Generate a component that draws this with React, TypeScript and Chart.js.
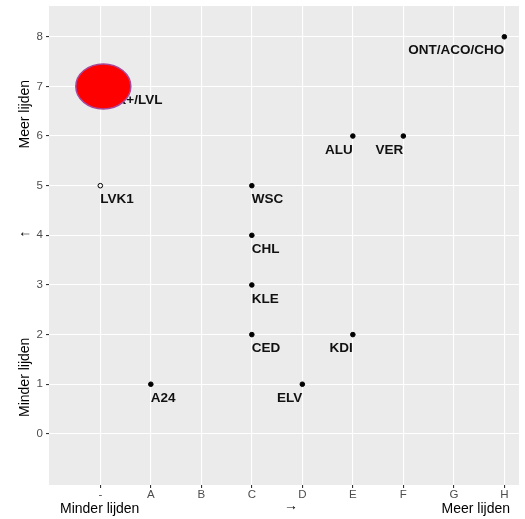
import React, { useEffect, useRef } from "react";
import { Chart, registerables } from "chart.js";

Chart.register(...registerables);

const categories = ["-", "A", "B", "C", "D", "E", "F", "G", "H"];
const yTicks = [0, 1, 2, 3, 4, 5, 6, 7, 8];
const pointLabels = ["ONT/ACO/CHO", "ALU", "VER", "LVK+/LVL", "LVK1", "WSC", "CHL", "KLE", "CED", "KDI", "A24", "ELV"];
const pointCategories = ["H", "E", "F", "-", "-", "C", "C", "C", "C", "E", "A", "D"];
const pointValues = [8, 6, 6, 7, 5, 5, 4, 3, 2, 2, 1, 1];
const hollowLabels = ["LVK1"];
const highlightLabel = "LVK+/LVL";
const xTitleParts = ["Minder lijden", "→", "Meer lijden"];
const yTitleParts = ["Minder lijden", "↑", "Meer lijden"];

const FONT = "'Liberation Sans', Arial, sans-serif";

export default function App() {
  const ref = useRef<HTMLCanvasElement | null>(null);

  useEffect(() => {
    document.body.style.margin = "0";
    const canvas = ref.current!;
    const data = pointLabels.map((l, i) => ({
      x: categories.indexOf(pointCategories[i]),
      y: pointValues[i],
    }));

    const overlay = {
      id: "overlay",
      beforeDraw(chart: any) {
        const { ctx, chartArea } = chart;
        ctx.save();
        ctx.fillStyle = "#ebebeb";
        ctx.fillRect(chartArea.left, chartArea.top, chartArea.right - chartArea.left, chartArea.bottom - chartArea.top);
        ctx.restore();
      },
      afterDatasetsDraw(chart: any) {
        const { ctx, scales } = chart;
        const xs = scales.x, ys = scales.y;
        ctx.save();
        ctx.font = `bold 13.5px ${FONT}`;
        ctx.fillStyle = "#111";
        ctx.textBaseline = "middle";
        data.forEach((p, i) => {
          const px = xs.getPixelForValue(p.x);
          const py = ys.getPixelForValue(p.y);
          ctx.textAlign = p.x >= 4 ? "right" : "left";
          ctx.fillText(pointLabels[i], px, py + 14);
        });
        // highlight ellipse
        const hi = pointLabels.indexOf(highlightLabel);
        const hx = xs.getPixelForValue(data[hi].x);
        const hy = ys.getPixelForValue(data[hi].y);
        ctx.beginPath();
        ctx.ellipse(hx + 3, hy, 27.5, 22.5, 0, 0, Math.PI * 2);
        ctx.fillStyle = "#ff0000";
        ctx.fill();
        ctx.lineWidth = 1.5;
        ctx.strokeStyle = "#a8489a";
        ctx.stroke();

        // axis titles
        ctx.fillStyle = "#000";
        ctx.font = `14px ${FONT}`;
        ctx.textBaseline = "middle";
        const ty = 509;
        ctx.textAlign = "left";
        ctx.fillText(xTitleParts[0], 60, ty);
        ctx.textAlign = "center";
        ctx.fillText(xTitleParts[1], 291, ty - 3);
        ctx.textAlign = "right";
        ctx.fillText(xTitleParts[2], 510, ty);

        ctx.translate(25, 0);
        ctx.rotate(-Math.PI / 2);
        ctx.textAlign = "left";
        ctx.fillText(yTitleParts[0], -417, 0);
        ctx.textAlign = "center";
        ctx.fillText(yTitleParts[1], -234, 0);
        ctx.textAlign = "right";
        ctx.fillText(yTitleParts[2], -80, 0);
        ctx.restore();
      },
    };

    const chart = new Chart(canvas, {
      type: "scatter",
      data: {
        datasets: [
          {
            data,
            pointRadius: 2.3,
            pointHoverRadius: 2.3,
            pointBorderWidth: 1,
            pointBackgroundColor: pointLabels.map((l) => (hollowLabels.includes(l) ? "rgba(0,0,0,0)" : "#000")),
            pointBorderColor: "#000",
          },
        ],
      },
      options: {
        animation: false,
        responsive: false,
        devicePixelRatio: 1,
        events: [],
        layout: { padding: { left: 0, right: 6, top: 6, bottom: 0 } },
        plugins: { legend: { display: false }, tooltip: { enabled: false } },
        scales: {
          x: {
            type: "linear",
            min: -1.016,
            max: 8.29,
            afterBuildTicks: (s: any) => {
              s.ticks = categories.map((_, i) => ({ value: i }));
            },
            afterFit: (s: any) => {
              s.height = 34;
              s.paddingLeft = 0;
              s.paddingRight = 0;
            },
            ticks: {
              callback: (v: any) => categories[v as number] ?? "",
              color: "#4d4d4d",
              font: { family: FONT, size: 11.5 },
              padding: 0,
              maxRotation: 0,
              autoSkip: false,
            },
            grid: { color: "#ffffff", lineWidth: 1.1, tickColor: "#333333", tickLength: 3 },
            border: { display: false },
          },
          y: {
            type: "linear",
            min: -1.03,
            max: 8.62,
            afterBuildTicks: (s: any) => {
              s.ticks = yTicks.map((v) => ({ value: v }));
            },
            afterFit: (s: any) => {
              s.width = 49;
              s.paddingTop = 0;
              s.paddingBottom = 0;
            },
            ticks: {
              color: "#4d4d4d",
              font: { family: FONT, size: 11.5 },
              padding: 3,
            },
            grid: { color: "#ffffff", lineWidth: 1.1, tickColor: "#333333", tickLength: 3 },
            border: { display: false },
          },
        },
      },
      plugins: [overlay],
    } as any);
    return () => chart.destroy();
  }, []);

  return (
    <div style={{ position: "absolute", left: 0, top: 0, width: 525, height: 519, background: "#fff" }}>
      <canvas ref={ref} width={525} height={519} />
    </div>
  );
}
